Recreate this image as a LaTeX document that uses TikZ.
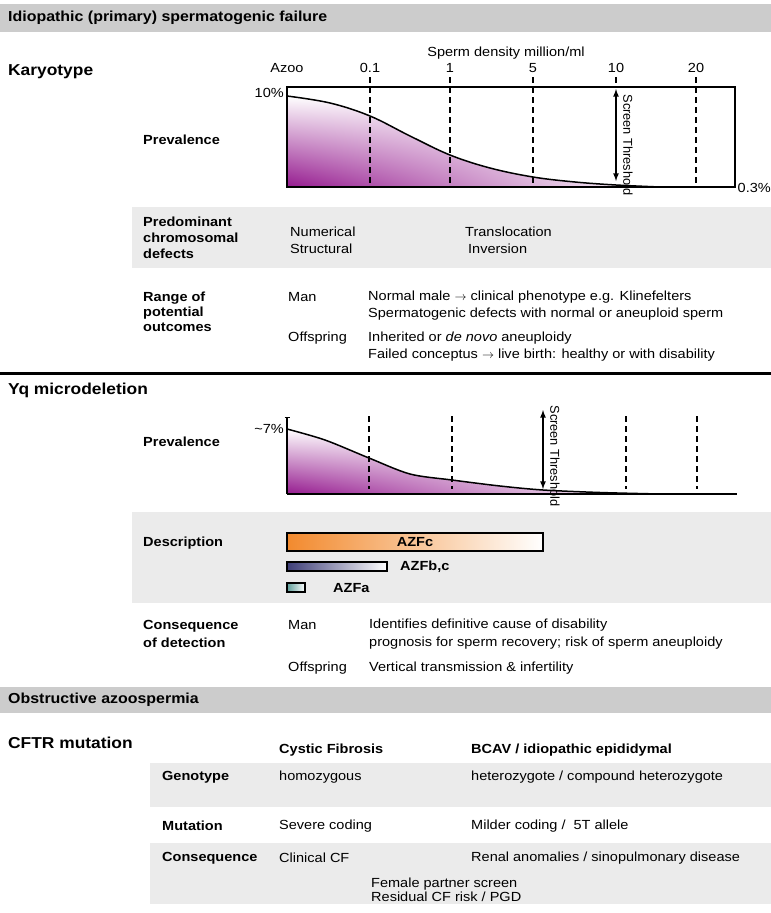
\documentclass[tikz,border=0pt]{standalone}
\usepackage{fontspec}
\setmainfont{Liberation Sans}[FakeStretch=1.1]
\newfontfamily\plainfont{Liberation Sans}
\usetikzlibrary{positioning,arrows,shadings}
\definecolor{prevpurple}{HTML}{951B8F}
\definecolor{azfcorange}{HTML}{F28A2E}
\definecolor{azfbslate}{HTML}{3E3E78}
\definecolor{azfateal}{HTML}{5E9E9A}
\begin{document}
\begin{tikzpicture}[x=1pt,y=-1pt,
  band/.style={fill=black!20},
  lightband/.style={fill=black!8},
  head/.style={anchor=west,inner sep=0,font=\bfseries\fontsize{14.5}{17}\selectfont},
  sect/.style={anchor=west,inner sep=0,font=\bfseries\fontsize{15.8}{19}\selectfont},
  lab/.style={anchor=west,inner sep=0,align=left,font=\bfseries\fontsize{13.2}{16}\selectfont},
  txt/.style={anchor=west,inner sep=0,align=left,font=\fontsize{13.2}{17}\selectfont},
  tick/.style={inner sep=0,font=\fontsize{13.2}{16}\selectfont},
  thrlab/.style={inner sep=0,rotate=-90,font=\plainfont\fontsize{12.8}{15}\selectfont},
  vdash/.style={line width=1.5pt,dash pattern=on 6pt off 4pt},
  chartbox/.style={line width=2pt},
  thrarrow/.style={latex-latex,line width=1.6pt},
  bar/.style={draw=black,line width=1.2pt}]
  \useasboundingbox (0,0) rectangle (771,913);

  % grey bands
  \fill[band] (0,4) rectangle (771,32);
  \fill[lightband] (132,207) rectangle (771,268);
  \fill[lightband] (132,512) rectangle (771,603);
  \fill[band] (0,687) rectangle (771,713);
  \fill[lightband] (150,763) rectangle (771,807);
  \fill[lightband] (150,843) rectangle (771,904);

  \node[head] (h1) at (8,18) {Idiopathic (primary) spermatogenic failure};
  \node[sect] (kary) at (8,72) {Karyotype};

  % karyotype prevalence chart
  \node[tick] (axis) at (506,53) {Sperm density million/ml};
  \node[tick] (t0) at (287,68) {Azoo};
  \node[tick] (t1) at (370,68) {0.1};
  \node[tick] (t2) at (450,68) {1};
  \node[tick] (t3) at (533,68) {5};
  \node[tick] (t4) at (616,68) {10};
  \node[tick] (t5) at (696,68) {20};
  \shade[upper left=white,upper right=white,lower left=prevpurple,lower right=white]
    (287,187) -- plot[smooth,tension=0.6] coordinates {(287,96) (330,103) (370,116) (410,136) (450,155) (490,168) (533,177) (575,182) (616,185) (660,187)} -- cycle;
  \draw[line width=1.5pt] plot[smooth,tension=0.6] coordinates {(287,96) (330,103) (370,116) (410,136) (450,155) (490,168) (533,177) (575,182) (616,185) (660,187)};
  \foreach \x in {370,450,533,696}
    \draw[vdash] (\x,77) -- (\x,187);
  \draw[vdash] (616,77) -- (616,87);
  \draw[chartbox] (287,87) rectangle (735,187);
  \coordinate (thr1a) at (616,89);
  \coordinate (thr1b) at (616,181);
  \draw[thrarrow] (thr1a) -- (thr1b);
  \node[thrlab] (thr1) at (628,145) {Screen Threshold};
  \node[tick,anchor=east] (top1) at (284,93) {10\%};
  \node[tick,anchor=east] (bot1) at (771,188) {0.3\%};
  \node[lab] (prev1) at (143,140) {Prevalence};

  \node[lab] (pcd) at (143,238) {Predominant\\chromosomal\\defects};
  \node[txt] (num) at (290,240) {Numerical\\Structural};
  \node[txt] (trans) at (465,240) {Translocation\\\hspace{3pt}Inversion};

  \node[lab,font=\bfseries\fontsize{13.2}{15}\selectfont] (rpo) at (143,312) {Range of\\potential\\outcomes};
  \node[txt] (man1) at (288,297) {Man};
  \node[txt] (man1t) at (368,306) {Normal male $\rightarrow$ clinical phenotype e.g. Klinefelters\\Spermatogenic defects with normal or aneuploid sperm};
  \node[txt] (off1) at (288,338) {Offspring};
  \node[txt] (off1t) at (368,346.5) {Inherited or \textit{de novo} aneuploidy\\Failed conceptus $\rightarrow$ live birth: healthy or with disability};

  \draw[line width=3pt] (0,373) -- (771,373);

  % Yq microdeletion
  \node[sect] (yq) at (8,390) {Yq microdeletion};
  \node[lab] (prev2) at (143,442) {Prevalence};
  \shade[upper left=white,upper right=white,lower left=prevpurple,lower right=white]
    (287,494) -- plot[smooth,tension=0.5] coordinates {(287,429) (325,440) (369,458) (410,474) (452,480) (500,486) (543,490) (600,492.5) (660,494)} -- cycle;
  \draw[line width=1.5pt] plot[smooth,tension=0.5] coordinates {(287,429) (325,440) (369,458) (410,474) (452,480) (500,486) (543,490) (600,492.5) (660,494)};
  \foreach \x in {369,452,626,697}
    \draw[vdash] (\x,416) -- (\x,489);
  \draw[line width=1.5pt] (287,417) -- (287,494);
  \draw[line width=1pt] (284.5,417) -- (289.5,417);
  \draw[line width=2pt] (287,494) -- (737,494);
  \coordinate (thr2a) at (543,410);
  \coordinate (thr2b) at (543,489);
  \draw[thrarrow] (thr2a) -- (thr2b);
  \node[thrlab] (thr2) at (555,456) {Screen Threshold};
  \node[tick,anchor=east] (top2) at (284,429) {\textasciitilde7\%};

  \node[lab] (desc) at (143,543) {Description};
  \shade[left color=azfcorange,right color=white] (287,533) rectangle (543,551);
  \draw[bar] (287,533) rectangle (543,551);
  \node[lab,anchor=center] (azfc) at (415,542) {AZFc};
  \shade[left color=azfbslate,right color=white] (287,562) rectangle (387,571);
  \draw[bar] (287,562) rectangle (387,571);
  \node[lab] (azfbc) at (400,567) {AZFb,c};
  \shade[left color=azfateal,right color=white] (287,583) rectangle (305,592);
  \draw[bar] (287,583) rectangle (305,592);
  \node[lab] (azfa) at (333,588) {AZFa};

  \node[lab,font=\bfseries\fontsize{13.2}{18}\selectfont] (cod) at (143,634) {Consequence\\of detection};
  \node[txt] (man2) at (288,625) {Man};
  \node[txt,font=\fontsize{13.2}{18}\selectfont] (man2t) at (369,634) {Identifies definitive cause of disability\\prognosis for sperm recovery; risk of sperm aneuploidy};
  \node[txt] (off2) at (288,668) {Offspring};
  \node[txt] (off2t) at (369,668) {Vertical transmission \& infertility};

  % obstructive azoospermia
  \node[head] (h2) at (8,700) {Obstructive azoospermia};
  \node[sect] (cftr) at (8,743) {CFTR mutation};
  \node[lab] (cf) at (279,750) {Cystic Fibrosis};
  \node[lab] (bcav) at (471,750) {BCAV / idiopathic epididymal};
  \node[lab] (geno) at (162,777) {Genotype};
  \node[txt] (geno1) at (279,777) {homozygous};
  \node[txt] (geno2) at (471,777) {heterozygote / compound heterozygote};
  \node[lab] (mut) at (162,826) {Mutation};
  \node[txt] (mut1) at (279,826) {Severe coding};
  \node[txt] (mut2) at (471,826) {Milder coding /\ \ 5T allele};
  \node[lab] (cons) at (162,858) {Consequence};
  \node[txt] (cons1) at (279,858) {Clinical CF};
  \node[txt] (cons2) at (471,858) {Renal anomalies / sinopulmonary disease};
  \node[txt,font=\fontsize{13.2}{14.5}\selectfont] (fem) at (371,890) {Female partner screen\\Residual CF risk / PGD};
\end{tikzpicture}
\end{document}
